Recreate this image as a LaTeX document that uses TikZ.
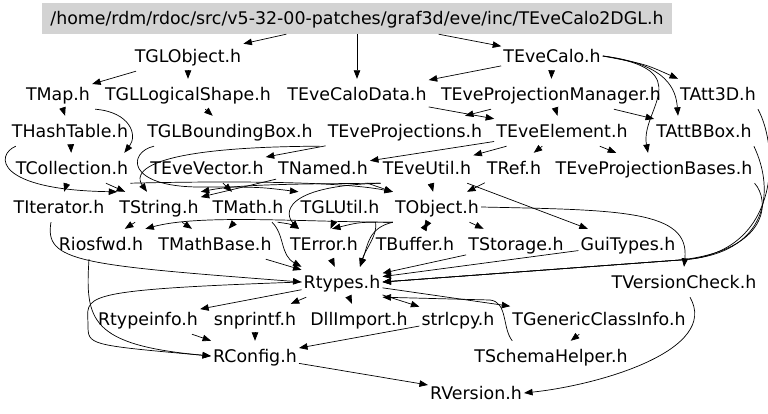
\documentclass[tikz,border=0pt]{standalone}
\usepackage{fontspec}
\setmainfont{DejaVu Sans}
\usetikzlibrary{arrows.meta}
\definecolor{rootgray}{RGB}{211,211,211}
\tikzset{
    hdr/.style={font=\fontsize{17.4}{20}\selectfont, inner xsep=2pt, inner ysep=0pt,
        minimum height=30pt, text height=15pt, text depth=2.2pt},
    dep/.style={draw=black, line width=0.7pt, -{Triangle[length=8.5pt,width=6.5pt]}},
}

\begin{document}
\begin{tikzpicture}[x=1pt, y=-1pt]
    \useasboundingbox (0,0) rectangle (768,414);
    \node[hdr, fill=rootgray, minimum width=630pt, minimum height=31pt] (root) at (357,18.5) {/home/rdm/rdoc/src/v5-32-00-patches/graf3d/eve/inc/TEveCalo2DGL.h};
    % row 1
    \node[hdr] (tglobject) at (188,56) {TGLObject.h};
    \node[hdr] (tevecalo) at (552,56) {TEveCalo.h};
    % row 2
    \node[hdr] (tmap) at (58,94) {TMap.h};
    \node[hdr] (tgllogicalshape) at (188,94) {TGLLogicalShape.h};
    \node[hdr] (tevecalodata) at (357,94) {TEveCaloData.h};
    \node[hdr] (teveprojectionmanager) at (551,94) {TEveProjectionManager.h};
    \node[hdr] (tatt3d) at (718,94) {TAtt3D.h};
    % row 3
    \node[hdr] (thashtable) at (70,131) {THashTable.h};
    \node[hdr] (tglboundingbox) at (230,131) {TGLBoundingBox.h};
    \node[hdr] (teveprojections) at (405,131) {TEveProjections.h};
    \node[hdr] (teveelement) at (562,131) {TEveElement.h};
    \node[hdr] (tattbbox) at (704,131) {TAttBBox.h};
    % row 4
    \node[hdr] (tcollection) at (72,168) {TCollection.h};
    \node[hdr] (tevevector) at (207,168) {TEveVector.h};
    \node[hdr] (tnamed) at (323,168) {TNamed.h};
    \node[hdr] (teveutil) at (427,168) {TEveUtil.h};
    \node[hdr] (tref) at (514,168) {TRef.h};
    \node[hdr] (teveprojectionbases) at (654,168) {TEveProjectionBases.h};
    % row 5
    \node[hdr] (titerator) at (59,207) {TIterator.h};
    \node[hdr] (tstring) at (159,207) {TString.h};
    \node[hdr] (tmath) at (248,207) {TMath.h};
    \node[hdr] (tglutil) at (340,207) {TGLUtil.h};
    \node[hdr] (tobject) at (437,207) {TObject.h};
    % row 6
    \node[hdr] (riosfwd) at (101,244) {Riosfwd.h};
    \node[hdr] (tmathbase) at (215,244) {TMathBase.h};
    \node[hdr] (terror) at (324,244) {TError.h};
    \node[hdr] (tbuffer) at (415,244) {TBuffer.h};
    \node[hdr] (tstorage) at (516,244) {TStorage.h};
    \node[hdr] (guitypes) at (628,244) {GuiTypes.h};
    % row 7
    \node[hdr] (rtypes) at (342,282) {Rtypes.h};
    \node[hdr] (tversioncheck) at (684,282) {TVersionCheck.h};
    % row 8
    \node[hdr] (rtypeinfo) at (148,319) {Rtypeinfo.h};
    \node[hdr] (snprintf) at (255,319) {snprintf.h};
    \node[hdr] (dllimport) at (359,319) {DllImport.h};
    \node[hdr] (strlcpy) at (458,319) {strlcpy.h};
    \node[hdr] (tgenericclassinfo) at (599,319) {TGenericClassInfo.h};
    % rows 9, 10
    \node[hdr] (rconfig) at (255,356) {RConfig.h};
    \node[hdr] (tschemahelper) at (551,356) {TSchemaHelper.h};
    \node[hdr] (rversion) at (476,393) {RVersion.h};

    \foreach \a/\b in {root/tglobject, root/tevecalo, root/tevecalodata,
        tglobject/tmap, tglobject/tgllogicalshape,
        tevecalo/tevecalodata, tevecalo/teveprojectionmanager,
        tmap/thashtable, tgllogicalshape/tglboundingbox, tevecalodata/teveelement,
        teveprojectionmanager/teveprojections, teveprojectionmanager/teveelement,
        teveprojectionmanager/tattbbox, thashtable/tcollection,
        teveprojections/tevevector, teveelement/tnamed, teveelement/teveutil,
        teveelement/tref, teveelement/teveprojectionbases,
        tcollection/titerator, tcollection/tstring, tevevector/tmath,
        tnamed/tobject, tnamed/tstring, teveutil/tobject, tref/tobject, teveutil/guitypes,
        tstring/riosfwd, tstring/tmathbase, tmath/tmathbase, tglutil/terror,
        tobject/tbuffer, tbuffer/tobject, tobject/tstorage,
        tmathbase/rtypes, terror/rtypes, tstorage/rtypes, guitypes/rtypes,
        rtypes/rtypeinfo, rtypes/snprintf, rtypes/dllimport, rtypes/strlcpy,
        rtypes/tgenericclassinfo, rtypeinfo/rconfig, snprintf/rconfig, strlcpy/rconfig,
        tgenericclassinfo/tschemahelper, rconfig/rversion}
        \draw[dep] (\a) -- (\b);

    % curved ones
    \draw[dep] (tevecalo.east) .. controls (645,64) .. (tatt3d.north west);
    \draw[dep] (tevecalo.east) .. controls (668,64) and (676,90) .. ([xshift=-26pt]tattbbox.north);
    \draw[dep] (tevecalo.east) .. controls (700,70) and (640,110) .. ([xshift=-6pt]teveprojectionbases.north);
    \draw[dep] ([xshift=3pt]tmap.south east) .. controls (130,112) and (138,135) .. ([xshift=-6pt]tcollection.north east);
    \draw[dep] ([xshift=6pt]thashtable.south west) .. controls (-5,155) and (-5,190) .. (tstring.north west);
    \draw[dep] ([xshift=-76pt]tglboundingbox.south) .. controls (128,152) and (125,187) .. (200,187) .. controls (260,187) .. (tglutil.north west);
    \draw[dep] ([xshift=-6pt]teveprojections.south west) .. controls (135,147) and (135,175) .. ([xshift=-12pt]tstring.north);
    \draw[dep] (tcollection.south east) .. controls (220,181) and (340,181) .. (tobject.north west);
    \draw[dep] (teveutil.south west) .. controls (300,184) and (240,184) .. (tstring.north east);
    \draw[dep] (teveutil.south west) .. controls (280,186) and (285,215) .. ([xshift=-25pt]terror.north);
    \draw[dep] (tobject.south west) .. controls (300,222) and (200,214) .. (riosfwd.north east);
    \draw[dep] (tobject.south west) .. controls (360,222) .. ([xshift=8pt]terror.north);
    \draw[dep] (tobject.south west) .. controls (368,228) and (368,245) .. ([xshift=18pt]rtypes.north);
    \draw[dep] ([xshift=-6pt]tglutil.south east) .. controls (378,235) and (365,250) .. ([xshift=18pt]rtypes.north);
    \draw[dep] ([xshift=-8pt]tmath.south east) .. controls (290,224) .. ([xshift=-25pt]terror.north);
    \draw[dep] ([xshift=24pt]tmath.south) .. controls (285,235) and (280,255) .. (rtypes.north west);
    \draw[dep] ([xshift=-8pt]titerator.south) .. controls (44,262) and (80,265) .. (rtypes.west);
    \draw[dep] (rtypes.west) .. controls (70,290) and (88,296) .. (88,325) .. controls (88,345) .. (rconfig.west);
    \draw[dep] ([xshift=-12pt]riosfwd.south) .. controls (85,320) and (90,345) .. (rconfig.west);
    \draw[dep] (tobject.east) .. controls (620,210) and (690,210) .. (tversioncheck.north);
    \draw[dep] ([xshift=6pt]tversioncheck.south) .. controls (720,350) and (600,385) .. (rversion.east);
    \draw[dep] (tatt3d.south east) .. controls (780,150) and (780,255) .. (680,260) -- (rtypes.east);
    \draw[dep] (tattbbox.south east) .. controls (775,190) and (770,255) .. (680,260) -- (rtypes.east);
    \draw[dep] (teveprojectionbases.south east) .. controls (770,200) and (770,250) .. (680,260) -- (rtypes.east);
    \draw[dep] ([xshift=40pt]tschemahelper.north west) .. controls (502,328) and (508,302) .. (490,300) -- (rtypes.south east);
\end{tikzpicture}
\end{document}
